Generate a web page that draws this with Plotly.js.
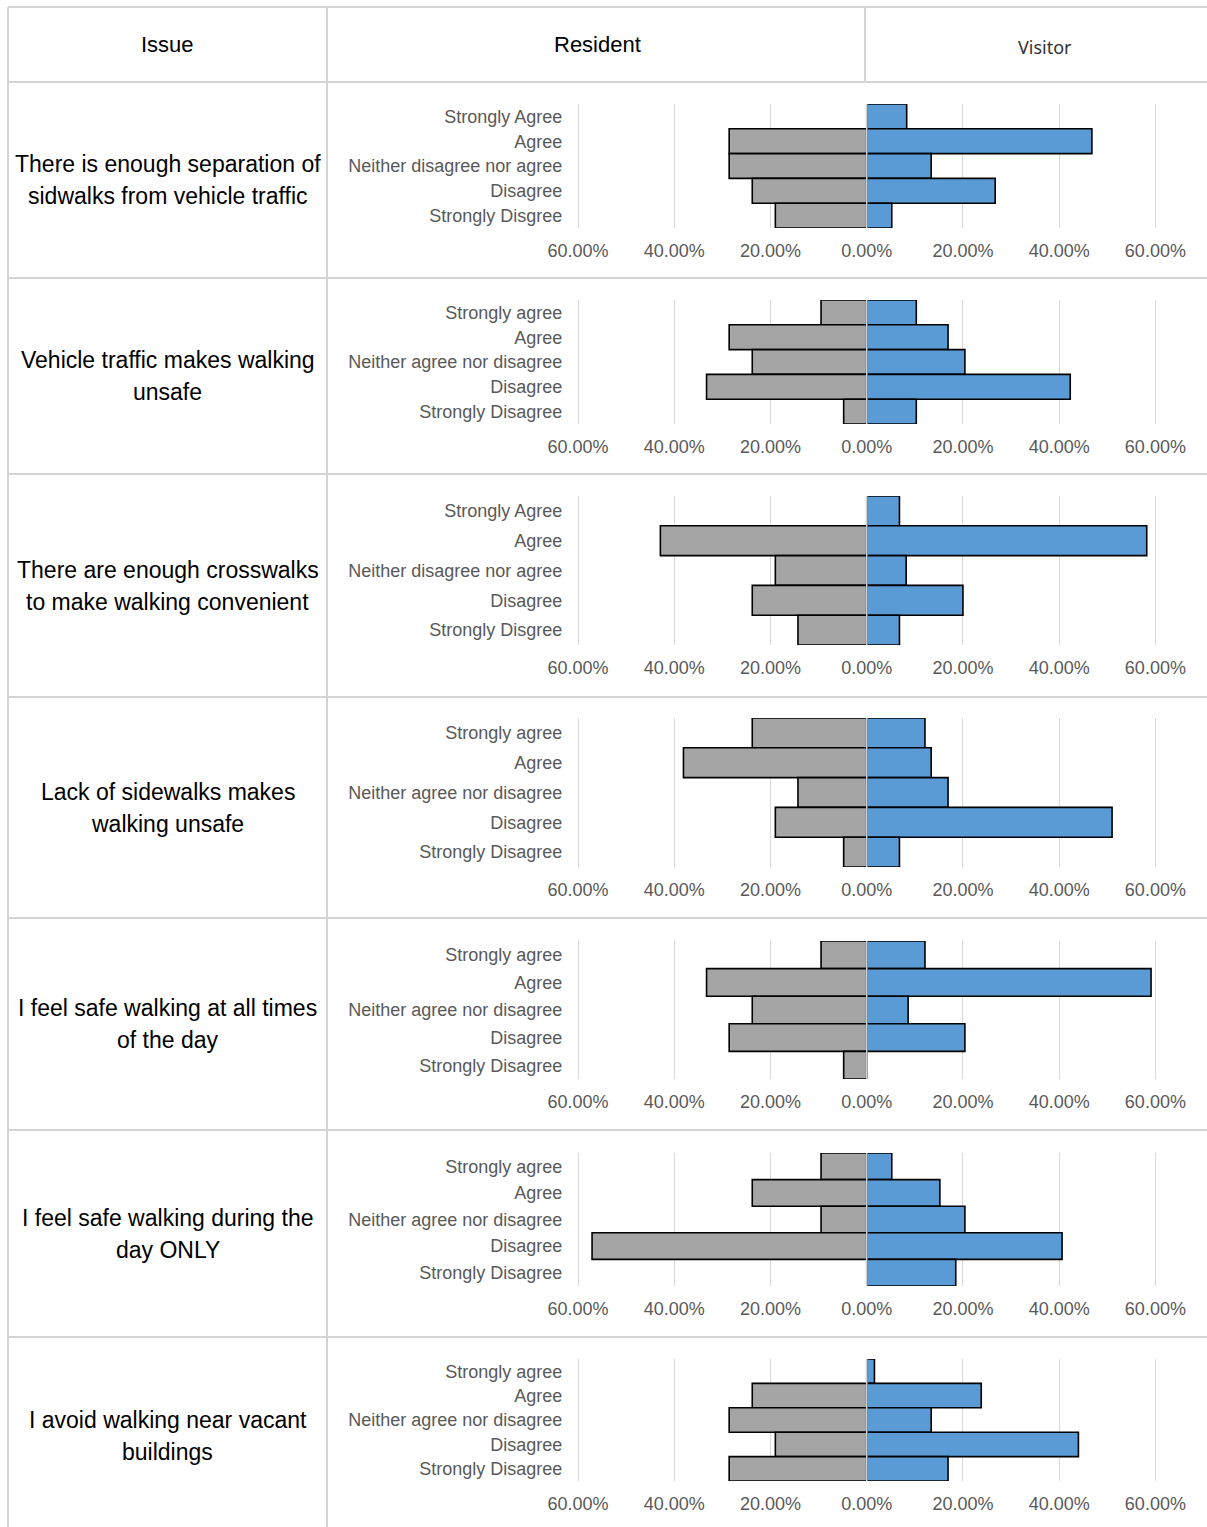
<!DOCTYPE html>
<html><head><meta charset="utf-8">
<script src="https://cdn.plot.ly/plotly-3.0.1.min.js"></script>
<style>html,body{margin:0;padding:0;background:#fff;} #chart{width:1207px;height:1527px;}</style>
</head><body><div id="chart"></div>
<script>
// ---------------- data ----------------
const headers = ["Issue", "Resident", "Visitor"];
const issues = [
  ["There is enough separation of", "sidwalks from vehicle traffic"],
  ["Vehicle traffic makes walking", "unsafe"],
  ["There are enough crosswalks", "to make walking convenient"],
  ["Lack of sidewalks makes", "walking unsafe"],
  ["I feel safe walking at all times", "of the day"],
  ["I feel safe walking during the", "day ONLY"],
  ["I avoid walking near vacant", "buildings"]
];
const categoriesA = ["Strongly Agree", "Agree", "Neither disagree nor agree", "Disagree", "Strongly Disgree"];
const categoriesB = ["Strongly agree", "Agree", "Neither agree nor disagree", "Disagree", "Strongly Disagree"];

const resident1 = [0, 28.6, 28.6, 23.8, 19.0];
const resident2 = [9.5, 28.6, 23.8, 33.3, 4.8];
const resident3 = [0, 42.9, 19.0, 23.8, 14.3];
const resident4 = [23.8, 38.1, 14.3, 19.0, 4.8];
const resident5 = [9.5, 33.3, 23.8, 28.6, 4.8];
const resident6 = [9.5, 23.8, 9.5, 57.1, 0];
const resident7 = [0, 23.8, 28.6, 19.0, 28.6];

const visitor1 = [8.3, 46.8, 13.4, 26.7, 5.2];
const visitor2 = [10.3, 16.9, 20.4, 42.3, 10.3];
const visitor3 = [6.8, 58.2, 8.2, 20.0, 6.8];
const visitor4 = [12.1, 13.4, 16.9, 51.0, 6.8];
const visitor5 = [12.1, 59.1, 8.6, 20.4, 0];
const visitor6 = [5.2, 15.2, 20.4, 40.6, 18.5];
const visitor7 = [1.6, 23.8, 13.4, 44.0, 16.9];

const tickValues = [-60, -40, -20, 0, 20, 40, 60];
const tickLabels = ["60.00%", "40.00%", "20.00%", "0.00%", "20.00%", "40.00%", "60.00%"];

const panelCategories = [categoriesA, categoriesB, categoriesA, categoriesB, categoriesB, categoriesB, categoriesB];
const residentSeries = [resident1, resident2, resident3, resident4, resident5, resident6, resident7];
const visitorSeries = [visitor1, visitor2, visitor3, visitor4, visitor5, visitor6, visitor7];

// ---------------- layout geometry (pixels) ----------------
const W = 1207, H = 1527;
const px = v => v / W;
const py = v => 1 - v / H;
const rowLines = [82, 278, 474, 697, 918, 1130, 1337, 1535];
const plotBoxes = [[104, 228], [300, 424], [496, 645], [718, 867], [941, 1079], [1153, 1286], [1359, 1481]];
const xDomain = [px(573.3), px(1160.2)];

const FONT = "Liberation Sans, Arial, sans-serif";
const traces = [];
const layout = {
  width: W, height: H,
  margin: {l: 0, r: 0, t: 0, b: 0},
  paper_bgcolor: "#ffffff", plot_bgcolor: "rgba(0,0,0,0)",
  showlegend: false,
  barmode: "relative", bargap: 0,
  font: {family: FONT, color: "#595959"},
  shapes: [], annotations: []
};

for (let i = 0; i < 7; i++) {
  const k = i === 0 ? "" : String(i + 1);
  traces.push({
    type: "bar", orientation: "h",
    y: panelCategories[i], x: residentSeries[i].map(v => v ? -v : null),
    xaxis: "x" + k, yaxis: "y" + k, name: "Resident",
    marker: {color: "#A5A5A5", line: {color: "#000000", width: 1.6}},
    hovertemplate: "%{y}: %{customdata}%<extra>Resident</extra>", customdata: residentSeries[i]
  });
  traces.push({
    type: "bar", orientation: "h",
    y: panelCategories[i], x: visitorSeries[i].map(v => v ? v : null),
    xaxis: "x" + k, yaxis: "y" + k, name: "Visitor",
    marker: {color: "#5B9BD5", line: {color: "#000000", width: 1.6}},
    hovertemplate: "%{y}: %{x}%<extra>Visitor</extra>"
  });
  layout["xaxis" + k] = {
    domain: xDomain, range: [-61, 61], anchor: "y" + k,
    tickvals: tickValues, ticktext: tickLabels,
    showgrid: true, gridcolor: "#d9d9d9", gridwidth: 1,
    zeroline: false, showline: false, ticks: "",
    ticklabelstandoff: 10,
    tickfont: {family: FONT, size: 18, color: "#595959"},
    fixedrange: true
  };
  layout["yaxis" + k] = {
    domain: [py(plotBoxes[i][1]), py(plotBoxes[i][0])],
    anchor: "x" + k, type: "category",
    categoryorder: "array", categoryarray: panelCategories[i],
    autorange: "reversed",
    showgrid: false, zeroline: false, showline: false, ticks: "",
    ticklabelstandoff: 10,
    tickfont: {family: FONT, size: 18, color: "#595959"},
    fixedrange: true
  };
  layout.shapes.push({
    type: "line", xref: "x" + k, yref: "y" + k + " domain",
    x0: 0, x1: 0, y0: 0, y1: 1, layer: "above",
    line: {color: "#d0d0d0", width: 1.5}
  });
  // issue text lines
  const rc = (rowLines[i] + rowLines[i + 1]) / 2;
  issues[i].forEach((t, j) => {
    layout.annotations.push({
      xref: "paper", yref: "paper", x: px(167.5), y: py(rc - 16 + j * 32),
      text: t, showarrow: false, xanchor: "center", yanchor: "middle",
      font: {family: FONT, size: 23, color: "#000000"}
    });
  });
}

// table borders
const border = {color: "#d4d4d4", width: 2};
function hline(y, x0, x1) { layout.shapes.push({type: "line", xref: "paper", yref: "paper", x0: px(x0), x1: px(x1), y0: py(y), y1: py(y), line: border, layer: "below"}); }
function vline(x, y0, y1) { layout.shapes.push({type: "line", xref: "paper", yref: "paper", x0: px(x), x1: px(x), y0: py(y0), y1: py(y1), line: border, layer: "below"}); }
hline(7, 8, 1207);
rowLines.slice(0, 7).forEach(y => hline(y, 8, 1207));
vline(8, 7, 1527);
vline(327, 7, 1527);
vline(865, 7, 82);

// header texts
const headerX = [167.5, 597, 1045];
const headerY = [45, 45, 47];
headers.forEach((h, j) => {
  layout.annotations.push({
    xref: "paper", yref: "paper", x: px(headerX[j]), y: py(headerY[j]), text: h, showarrow: false,
    xanchor: "center", yanchor: "middle",
    font: j < 2 ? {family: FONT, size: 22, color: "#000000"}
                : {family: "Noto Sans, Open Sans, sans-serif", size: 18, color: "#333333"}
  });
});

Plotly.newPlot("chart", traces, layout, {staticPlot: true, displayModeBar: false});
</script></body></html>
